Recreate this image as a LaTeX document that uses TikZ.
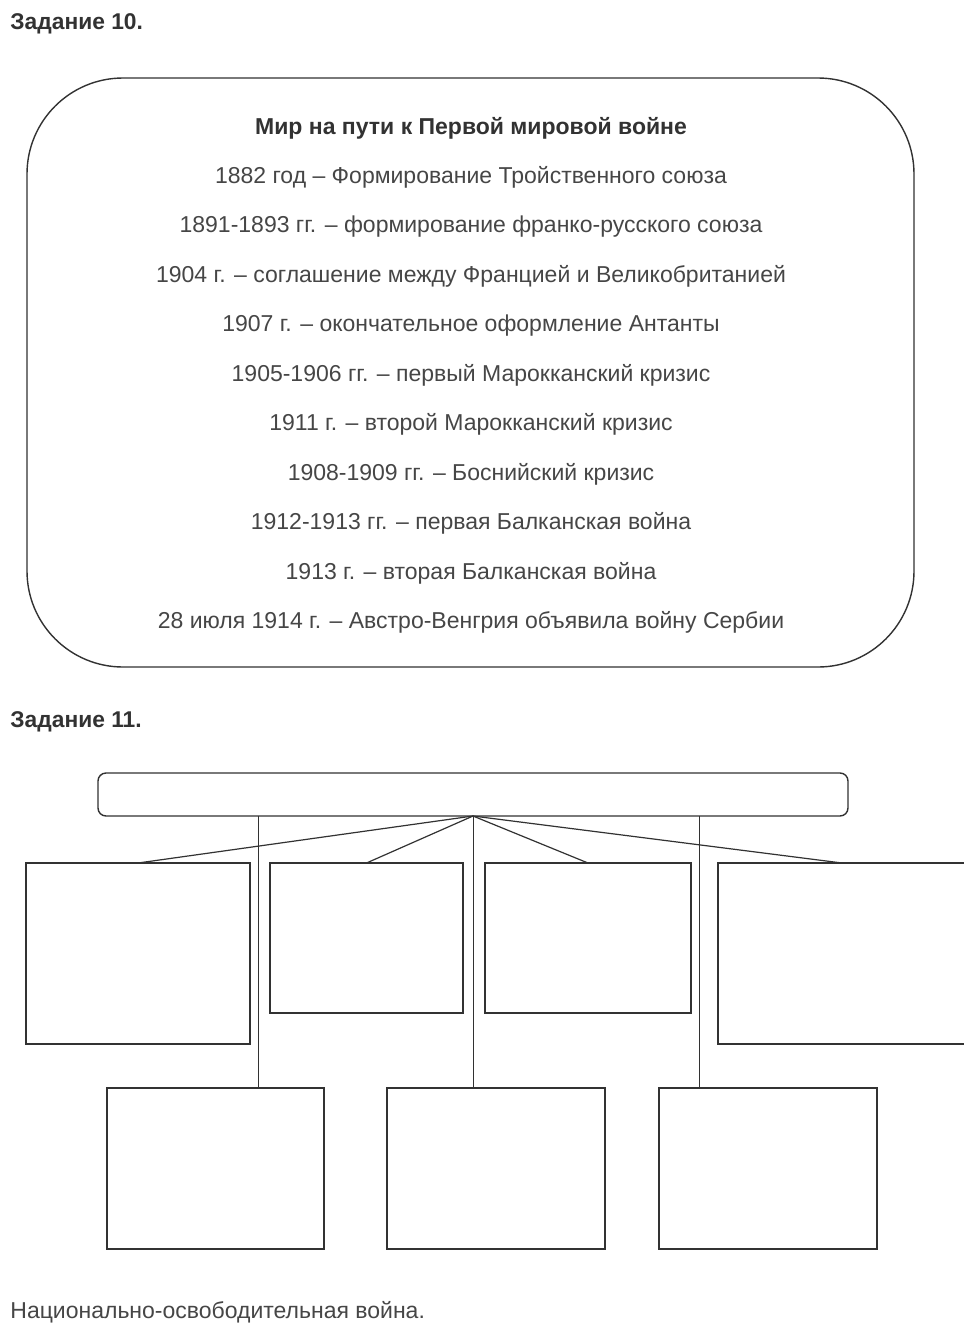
\documentclass[tikz,border=0pt]{standalone}
\usepackage{fontspec}
\setmainfont{Liberation Sans}
\usetikzlibrary{positioning,calc}
\definecolor{tgray}{RGB}{70,70,70}
\definecolor{lgray}{RGB}{50,50,50}
\tikzset{
  heading/.style={anchor=west,font=\bfseries\fontsize{11.4pt}{13pt}\selectfont,text=lgray,inner sep=0pt},
  event/.style={font=\fontsize{11.5pt}{13pt}\selectfont,text=tgray,inner sep=0pt},
  cell/.style 2 args={draw=lgray,line width=1pt,minimum width=#1*0.5pt,minimum height=#2*0.5pt,inner sep=0pt,outer sep=0pt},
  link/.style={draw=lgray,line width=0.6pt}
}
\begin{document}
\begin{tikzpicture}[x=0.5pt,y=-0.5pt]
    \clip (0,0) rectangle (964,1339);
    \fill[white] (0,0) rectangle (964,1339);
    % task 10
    \node[heading] (h10) at (10,24) {Задание 10.};
    \draw[lgray,line width=0.7pt,rounded corners=48pt] (27,78) rectangle (914,667);
    \node[event,font=\bfseries\fontsize{11.5pt}{13pt}\selectfont,text=lgray] (title) at (471,128) {Мир на пути к Первой мировой войне};
    \foreach \y/\t [count=\i] in {177/1882 год – Формирование Тройственного союза,
        227/1891-1893 гг. – формирование франко-русского союза,
        276/1904 г. – соглашение между Францией и Великобританией,
        326/1907 г. – окончательное оформление Антанты,
        375/1905-1906 гг. – первый Марокканский кризис,
        424/1911 г. – второй Марокканский кризис,
        474/1908-1909 гг. – Боснийский кризис,
        523/1912-1913 гг. – первая Балканская война,
        573/1913 г. – вторая Балканская война,
        622/28 июля 1914 г. – Австро-Венгрия объявила войну Сербии}
      \node[event] (ev\i) at (471,\y) {\t};
    % task 11
    \node[heading] (h11) at (10,722) {Задание 11.};
    \node[draw=lgray,line width=0.7pt,rounded corners=4pt,minimum width=750*0.5pt,minimum height=43*0.5pt,outer sep=0pt] (top) at (473,794.5) {};
    \node[cell={224}{181}] (b1) at (138,953.5) {};
    \node[cell={193}{150}] (b2) at (366.5,938) {};
    \node[cell={206}{150}] (b3) at (588,938) {};
    \node[cell={248}{181}] (b4) at (842,953.5) {};
    \node[cell={217}{161}] (b5) at (215.5,1168.5) {};
    \node[cell={218}{161}] (b6) at (496,1168.5) {};
    \node[cell={218}{161}] (b7) at (768,1168.5) {};
    \foreach \b in {b1,b2,b3,b4}
      \draw[link] (top.south) -- (\b.north);
    \coordinate (v5) at ($(b5.north west)!0.7!(b5.north east)$);
    \coordinate (v7) at ($(b7.north west)!0.188!(b7.north east)$);
    \draw[link,line width=0.5pt] (v5) -- (v5 |- top.south);
    \draw[link,line width=0.5pt] (top.south) -- (top.south |- b6.north);
    \draw[link,line width=0.5pt] (v7) -- (v7 |- top.south);
    \node[heading,font=\fontsize{11.5pt}{13pt}\selectfont,text=tgray] (answer) at (10,1312) {Национально-освободительная война.};
\end{tikzpicture}
\end{document}
